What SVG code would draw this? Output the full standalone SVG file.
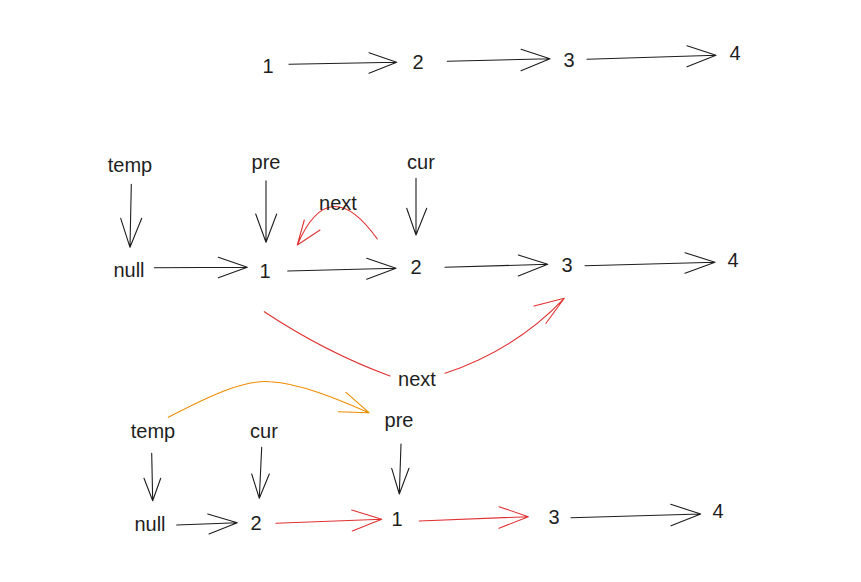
<svg xmlns="http://www.w3.org/2000/svg" width="861" height="582" viewBox="0 0 861 582">
  <style>
    .bg { fill: #ffffff; }
    .lbl { font-family: "Liberation Sans", "DejaVu Sans", sans-serif; font-size: 20px; fill: #1e1e1e; text-anchor: middle; dominant-baseline: central; }
    .ln { fill: none; stroke: #1e1e1e; stroke-width: 1.1; stroke-linecap: round; stroke-linejoin: round; }
    .red { stroke: #e03131; }
    .orange { stroke: #f08c00; }
  </style>
  <rect class="bg" x="0" y="0" width="861" height="582"/>

  <!-- connectors -->
  <g id="connectors">
    <!-- row 1: 1 -> 2 -> 3 -> 4 -->
    <path class="ln" d="M289,64.3 L396.7,62.3 M369,52.7 L396.7,62.3 L369,73.3"/>
    <path class="ln" d="M447.3,61.3 L550,58.7 M521,49.3 L550,58.7 L521,70.7"/>
    <path class="ln" d="M587,59.3 L716,55.3 M687,45.7 L716,55.3 L687,66.7"/>

    <!-- row 2: pointers -->
    <path class="ln" d="M131.3,184.3 L130,247.3 M120.7,218.3 L130,247.3 L141.7,218.3"/>
    <path class="ln" d="M266,180.7 L266,242.3 M255.7,214 L266,242.3 L276.7,214"/>
    <path class="ln" d="M416,178.3 L416,235 M406.7,208.3 L416,235 L426.7,208.3"/>

    <!-- row 2: list -->
    <path class="ln" d="M154.3,267.7 L247.3,267.3 M218.3,257.3 L247.3,267.3 L218.3,277.7"/>
    <path class="ln" d="M287.7,271 L396,268.3 M366.7,258.3 L396,268.3 L366.7,279.3"/>
    <path class="ln" d="M445,267.3 L547.7,264.3 M518.3,255 L547.7,264.3 L518.3,276"/>
    <path class="ln" d="M585,265.7 L715,262.3 M685,252.7 L715,262.3 L685,273.3"/>

    <!-- row 2: 2.next -> 1 -->
    <path class="ln red" d="M377.3,239 Q329,171 297.3,245 M304.3,220 L297.3,245 L320,230"/>

    <!-- 1.next -> 3 (label "next" sits in the gap) -->
    <path class="ln red" d="M264.3,311.7 Q325,352 390,376"/>
    <path class="ln red" d="M445,373.3 Q515,350 564.3,298.3 M534,306 L564.3,298.3 L546,323.3"/>

    <!-- temp -> pre -->
    <path class="ln orange" d="M168.3,417.3 C215,393 245,380 270,381.7 C300,383 340,400 369,412.7 M346,392.3 L369,412.7 L338.3,411.7"/>

    <!-- row 3: pointers -->
    <path class="ln" d="M151.7,453.3 L152.7,500.7 M144,478.3 L152.7,500.7 L160.7,478.3"/>
    <path class="ln" d="M261.7,447.3 L259.3,498.3 M251.7,474 L259.3,498.3 L269.3,474"/>
    <path class="ln" d="M401,444 L399.3,494 M391.7,468.3 L399.3,494 L409,468.3"/>

    <!-- row 3: list -->
    <path class="ln" d="M176.7,525 L237.3,522.7 M207.7,514 L237.3,522.7 L209,534"/>
    <path class="ln red" d="M276,523.3 L381.7,519.3 M351.7,510 L381.7,519.3 L352.3,531"/>
    <path class="ln red" d="M419.3,521 L528.3,516.7 M499,506.7 L528.3,516.7 L499,528.3"/>
    <path class="ln" d="M571,517.7 L700.7,514 M670.7,504.3 L700.7,514 L671,525.7"/>
  </g>

  <!-- row 1 -->
  <g id="r1-n1"><text class="lbl" x="268" y="66">1</text></g>
  <g id="r1-n2"><text class="lbl" x="418" y="62">2</text></g>
  <g id="r1-n3"><text class="lbl" x="569" y="60">3</text></g>
  <g id="r1-n4"><text class="lbl" x="735" y="53">4</text></g>

  <!-- row 2 -->
  <g id="r2-temp"><text class="lbl" x="130" y="165">temp</text></g>
  <g id="r2-pre"><text class="lbl" x="266" y="162">pre</text></g>
  <g id="r2-cur"><text class="lbl" x="421" y="162">cur</text></g>
  <g id="r2-next"><text class="lbl" x="338" y="203">next</text></g>
  <g id="r2-null"><text class="lbl" x="129" y="270">null</text></g>
  <g id="r2-n1"><text class="lbl" x="265" y="271">1</text></g>
  <g id="r2-n2"><text class="lbl" x="416" y="267">2</text></g>
  <g id="r2-n3"><text class="lbl" x="567" y="265">3</text></g>
  <g id="r2-n4"><text class="lbl" x="733" y="260">4</text></g>
  <g id="r2-next2"><text class="lbl" x="417" y="379">next</text></g>

  <!-- row 3 -->
  <g id="r3-temp"><text class="lbl" x="153" y="431">temp</text></g>
  <g id="r3-cur"><text class="lbl" x="264" y="431">cur</text></g>
  <g id="r3-pre"><text class="lbl" x="399" y="420">pre</text></g>
  <g id="r3-null"><text class="lbl" x="150" y="524">null</text></g>
  <g id="r3-n2"><text class="lbl" x="256" y="523">2</text></g>
  <g id="r3-n1"><text class="lbl" x="397" y="519">1</text></g>
  <g id="r3-n3"><text class="lbl" x="554" y="517">3</text></g>
  <g id="r3-n4"><text class="lbl" x="718" y="511">4</text></g>
</svg>
